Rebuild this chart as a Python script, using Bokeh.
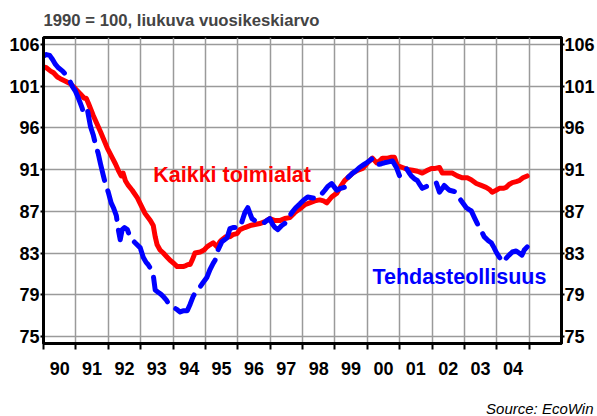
from bokeh.plotting import figure
from bokeh.models import FixedTicker, LogAxis, Label, Title, Range1d
from bokeh.embed import file_html
from bokeh.resources import INLINE

subtitle = "1990 = 100, liukuva vuosikeskiarvo"
source_text = "Source: EcoWin"

years = list(range(1990, 2006))
year_labels = ["90", "91", "92", "93", "94", "95", "96", "97", "98", "99",
               "00", "01", "02", "03", "04"]
y_ticks = [75.0, 78.75, 82.69, 86.82, 91.16, 95.72, 100.51, 105.53]
y_tick_labels = ["75", "79", "83", "87", "91", "96", "101", "106"]

# Kaikki toimialat (all industries)
red_t = [1990.00, 1990.09, 1990.22, 1990.31, 1990.43, 1990.52, 1990.68, 1990.83, 1990.99,
         1991.14, 1991.26, 1991.32, 1991.39, 1991.54, 1991.76, 1991.97, 1992.13, 1992.22,
         1992.31, 1992.40, 1992.46, 1992.53, 1992.62, 1992.74, 1992.90, 1992.99, 1993.14,
         1993.30, 1993.39, 1993.45, 1993.51, 1993.60, 1993.70, 1993.82, 1993.91, 1994.03,
         1994.13, 1994.22, 1994.31, 1994.40, 1994.47, 1994.53, 1994.59, 1994.68, 1994.84,
         1994.96, 1995.05, 1995.14, 1995.24, 1995.36, 1995.45, 1995.51, 1995.64, 1995.76,
         1995.85, 1995.98, 1996.07, 1996.22, 1996.38, 1996.53, 1996.68, 1996.84, 1996.99,
         1997.15, 1997.30, 1997.45, 1997.61, 1997.76, 1997.92, 1998.07, 1998.22, 1998.38,
         1998.53, 1998.65, 1998.75, 1998.90, 1999.06, 1999.18, 1999.30, 1999.46, 1999.55,
         1999.70, 1999.86, 2000.01, 2000.16, 2000.29, 2000.38, 2000.47, 2000.63, 2000.75,
         2000.84, 2000.93, 2001.09, 2001.24, 2001.40, 2001.55, 2001.70, 2001.86, 2001.98,
         2002.10, 2002.23, 2002.32, 2002.47, 2002.63, 2002.78, 2002.94, 2003.09, 2003.21,
         2003.37, 2003.52, 2003.67, 2003.77, 2003.86, 2003.98, 2004.08, 2004.20, 2004.29,
         2004.38, 2004.48, 2004.60, 2004.69, 2004.81, 2004.94]
red_v = [102.8, 102.7, 102.3, 102.1, 101.6, 101.4, 101.1, 100.8, 100.2,
         99.6, 99.1, 99.1, 98.5, 97.1, 95.3, 93.5, 92.4, 91.8,
         91.1, 90.5, 90.8, 90.0, 89.5, 89.0, 88.2, 87.6, 86.6,
         85.9, 85.4, 84.3, 83.5, 83.0, 82.7, 82.3, 82.0, 81.7,
         81.4, 81.4, 81.4, 81.5, 81.6, 81.6, 82.0, 82.7, 82.8,
         83.0, 83.3, 83.5, 83.7, 83.3, 83.8, 84.0, 84.3, 84.3,
         84.5, 84.6, 85.0, 85.2, 85.4, 85.5, 85.6, 85.8, 86.1,
         85.9, 85.9, 86.1, 86.2, 86.7, 87.1, 87.5, 87.7, 87.9,
         88.0, 87.9, 87.7, 88.3, 88.7, 89.4, 90.0, 90.5, 90.8,
         91.1, 91.3, 91.9, 92.4, 91.9, 92.1, 92.4, 92.4, 92.5,
         92.5, 91.6, 91.4, 91.2, 91.1, 91.0, 90.8, 91.1, 91.3,
         91.3, 91.4, 90.8, 90.8, 90.8, 90.5, 90.3, 90.3, 90.1,
         89.7, 89.5, 89.3, 89.1, 88.8, 89.0, 89.2, 89.2, 89.3,
         89.6, 89.8, 89.9, 90.0, 90.3, 90.5]

# Tehdasteollisuus (manufacturing)
blue_t = [1990.00, 1990.09, 1990.19, 1990.28, 1990.37, 1990.46, 1990.59, 1990.68, 1990.77,
          1990.89, 1990.99, 1991.08, 1991.14, 1991.20, 1991.23, 1991.29, 1991.36, 1991.39,
          1991.45, 1991.54, 1991.60, 1991.69, 1991.76, 1991.85, 1991.91, 1992.00, 1992.09,
          1992.16, 1992.25, 1992.31, 1992.37, 1992.43, 1992.50, 1992.59, 1992.68, 1992.83,
          1992.99, 1993.08, 1993.17, 1993.23, 1993.33, 1993.39, 1993.45, 1993.54, 1993.63,
          1993.70, 1993.79, 1993.85, 1993.97, 1994.13, 1994.22, 1994.31, 1994.44, 1994.53,
          1994.62, 1994.74, 1994.84, 1994.93, 1995.05, 1995.14, 1995.24, 1995.30, 1995.39,
          1995.51, 1995.67, 1995.76, 1995.85, 1995.98, 1996.07, 1996.16, 1996.22, 1996.31,
          1996.38, 1996.44, 1996.53, 1996.62, 1996.78, 1996.90, 1996.99, 1997.08, 1997.15,
          1997.24, 1997.36, 1997.45, 1997.55, 1997.67, 1997.79, 1997.92, 1998.04, 1998.16,
          1998.32, 1998.47, 1998.59, 1998.69, 1998.78, 1998.90, 1998.99, 1999.06, 1999.18,
          1999.30, 1999.39, 1999.55, 1999.67, 1999.76, 1999.89, 1999.98, 2000.10, 2000.16,
          2000.26, 2000.32, 2000.44, 2000.53, 2000.66, 2000.78, 2000.90, 2001.00, 2001.12,
          2001.21, 2001.30, 2001.36, 2001.46, 2001.55, 2001.64, 2001.70, 2001.83, 2001.92,
          2002.04, 2002.13, 2002.23, 2002.32, 2002.38, 2002.47, 2002.54, 2002.66, 2002.75,
          2002.84, 2002.97, 2003.06, 2003.15, 2003.21, 2003.31, 2003.40, 2003.46, 2003.55,
          2003.61, 2003.74, 2003.83, 2003.92, 2003.98, 2004.08, 2004.20, 2004.29, 2004.38,
          2004.48, 2004.60, 2004.69, 2004.78, 2004.85, 2004.94]
blue_v = [104.1, 104.3, 104.2, 103.7, 103.1, 102.7, 102.3, 101.9, 101.5,
          100.5, 99.9, 99.1, 98.5, 97.9, 97.3, 97.5, 97.7, 97.1,
          95.9, 94.9, 94.0, 92.9, 91.8, 90.5, 89.7, 88.8, 87.7,
          87.2, 86.4, 85.0, 84.0, 85.0, 85.2, 85.0, 84.2, 83.7,
          83.2, 82.3, 81.8, 81.6, 81.1, 80.6, 79.2, 79.0, 78.8,
          78.6, 78.3, 78.0, 77.7, 77.4, 77.2, 77.3, 77.3, 77.9,
          78.6, 79.2, 79.5, 79.9, 80.4, 81.1, 81.7, 82.0, 83.0,
          83.8, 84.2, 85.1, 85.2, 85.2, 85.2, 86.1, 86.7, 87.2,
          86.6, 86.1, 85.9, 85.8, 85.6, 85.9, 86.1, 85.5, 85.2,
          85.0, 85.4, 85.6, 86.1, 86.7, 87.2, 87.6, 88.0, 88.3,
          88.2, 88.2, 88.6, 89.0, 89.4, 89.7, 89.3, 89.0, 89.2,
          89.3, 90.3, 90.8, 91.1, 91.4, 91.7, 91.9, 92.2, 92.4,
          91.9, 91.7, 91.8, 91.9, 92.0, 92.1, 91.4, 90.5, 91.0,
          91.3, 90.8, 90.5, 90.2, 90.0, 89.5, 89.2, 89.4, 89.5,
          89.7, 89.8, 88.8, 89.2, 89.5, 89.2, 89.0, 88.9, 88.8,
          88.2, 87.6, 87.2, 87.0, 86.9, 86.2, 85.6, 85.2, 84.7,
          84.3, 83.9, 83.7, 83.2, 82.8, 82.3, 81.8, 82.2, 82.5,
          82.8, 82.9, 82.7, 82.5, 83.0, 83.3]

FONT = "Liberation Sans"

p = figure(width=597, height=416,
           x_range=Range1d(years[0], years[-1] + 1), y_range=Range1d(74.4, 106.4),
           y_axis_type="log", output_backend="svg", toolbar_location=None,
           min_border_left=43, min_border_right=34, min_border_top=35, min_border_bottom=72,
           background_fill_color="white", border_fill_color="white")

p.outline_line_color = "black"
p.outline_line_width = 3

# title (subtitle line)
p.title.text = subtitle
p.title.text_font = FONT
p.title.text_font_size = "16.7px"
p.title.text_font_style = "bold"
p.title.align = "left"
p.title.standoff = 16
p.title.offset = 0

# grids
p.xgrid.ticker = FixedTicker(ticks=years[1:])
p.ygrid.ticker = FixedTicker(ticks=y_ticks)
for g in (p.xgrid[0], p.ygrid[0]):
    g.grid_line_color = "#9a9a9a"
    g.grid_line_width = 1.5

# x axis: ticks at year boundaries, labels in mid-year
mids = [y + 0.5 for y in years[:-1]]
xa = p.xaxis[0]
xa.ticker = FixedTicker(ticks=mids, minor_ticks=years)
xa.major_label_overrides = dict(zip(mids, year_labels))
xa.major_tick_line_color = None
xa.major_tick_in = 0
xa.major_tick_out = 0
xa.minor_tick_in = 0
xa.minor_tick_out = 6
xa.minor_tick_line_width = 2
xa.minor_tick_line_color = "black"
xa.axis_line_width = 3
xa.axis_line_color = "black"
xa.major_label_standoff = 12
xa.major_label_text_font = FONT
xa.major_label_text_font_size = "18px"
xa.major_label_text_font_style = "bold"
xa.major_label_text_color = "black"
# blank axis label only reserves room so the source line sits at the bottom
xa.axis_label = " "
xa.axis_label_text_font_size = "10px"
xa.axis_label_standoff = 6

# y axes (log scale, left and right)
ra = LogAxis()
p.add_layout(ra, "right")
for ax, so in ((p.yaxis[0], 1), (ra, 0)):
    ax.ticker = FixedTicker(ticks=y_ticks)
    ax.major_label_overrides = dict(zip(y_ticks, y_tick_labels))
    ax.minor_tick_line_color = None
    ax.major_tick_in = 0
    ax.major_tick_out = 3
    ax.major_tick_line_width = 2
    ax.major_tick_line_color = "black"
    ax.axis_line_width = 3
    ax.axis_line_color = "black"
    ax.major_label_standoff = so
    ax.major_label_text_font = FONT
    ax.major_label_text_font_size = "18px"
    ax.major_label_text_font_style = "bold"
    ax.major_label_text_color = "black"

# series
p.line(red_t, red_v, line_color="#ff0000", line_width=5, line_cap="round", line_join="round")
p.line(blue_t, blue_v, line_color="#0000ff", line_width=5, line_cap="round", line_join="round",
       line_dash="30 11")

# series labels
p.add_layout(Label(x=1993.39, y=90.6, text="Kaikki toimialat", text_color="#ff0000",
                   text_font=FONT, text_font_size="21.5px", text_font_style="bold",
                   text_align="left", text_baseline="alphabetic"))
p.add_layout(Label(x=2000.16, y=80.4, text="Tehdasteollisuus", text_color="#0000ff",
                   text_font=FONT, text_font_size="21.5px", text_font_style="bold",
                   text_align="left", text_baseline="alphabetic"))

# source
p.add_layout(Title(text=source_text, align="right", text_font=FONT, text_font_size="15px",
                   text_font_style="italic", text_color="black", offset=-32, standoff=0),
             "below")

open("out.html", "w").write(file_html(p, INLINE))
